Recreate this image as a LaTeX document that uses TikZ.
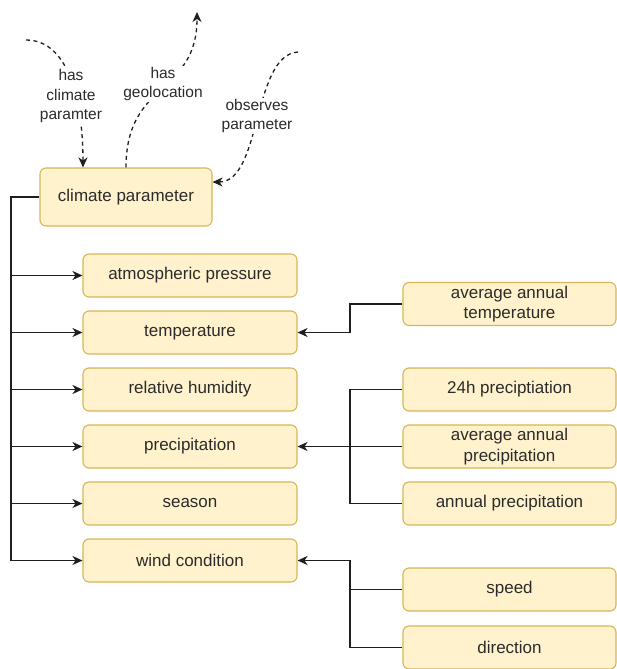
\documentclass[tikz,border=0pt]{standalone}
\usepackage{fontspec}
\setmainfont{Liberation Sans}
\usetikzlibrary{arrows.meta,calc}
\definecolor{boxfill}{HTML}{FFF2CC}
\definecolor{boxdraw}{HTML}{D6B656}
\definecolor{txt}{HTML}{2B2B2B}
\begin{document}
\begin{tikzpicture}[x=1pt,y=-1pt,
  box/.style={draw=boxdraw,fill=boxfill,rounded corners=6pt,line width=1.1pt,
    minimum width=214pt,minimum height=43pt,inner sep=0pt,text=txt,align=center,
    font=\fontsize{17}{20.5}\selectfont},
  conn/.style={line width=1.3pt,draw=black!88},
  arr/.style={conn,-{Stealth[length=10pt,width=9pt,inset=3pt]}},
  dsh/.style={line width=1.3pt,draw=black!88,dash pattern=on 4pt off 3.5pt,-{Stealth[length=10pt,width=9pt,inset=3pt]}},
  lbl/.style={fill=white,inner sep=1pt,text=txt,align=center,font=\fontsize{15.5}{19.5}\selectfont}]
\useasboundingbox (0,0) rectangle (617,669);
% nodes
\node[box,minimum width=172pt,minimum height=58pt] (cp) at (126,197) {climate parameter};
\node[box] (ap) at (190,275.5) {atmospheric pressure};
\node[box] (temp) at (190,332.5) {temperature};
\node[box] (rh) at (190,389.5) {relative humidity};
\node[box] (prec) at (190,446.5) {precipitation};
\node[box] (sea) at (190,503.5) {season};
\node[box] (wc) at (190,560.5) {wind condition};
\node[box,minimum width=213pt] (aat) at (509.5,304) {average annual\\temperature};
\node[box,minimum width=213pt] (h24) at (509.5,389.5) {24h preciptiation};
\node[box,minimum width=213pt] (aap) at (509.5,446.5) {average annual\\precipitation};
\node[box,minimum width=213pt] (annp) at (509.5,503.5) {annual precipitation};
\node[box,minimum width=213pt] (spd) at (509.5,589.5) {speed};
\node[box,minimum width=213pt] (dir) at (509.5,647.5) {direction};
% trunk
\coordinate (tr) at (11,0);
\coordinate (rj) at (350,0);
\draw[arr] (cp.west) -- (tr |- cp.west) -- (tr |- wc.west) -- (wc.west);
\foreach \n in {ap,temp,rh,prec,sea} \draw[arr] (tr |- \n.west) -- (\n.west);
% right side
\draw[arr] (aat.west) -- (rj |- aat.west) -- (rj |- temp.east) -- (temp.east);
\draw[conn] (h24.west) -- (rj |- h24.west) -- (rj |- annp.west) -- (annp.west);
\draw[arr] (aap.west) -- (prec.east);
\draw[arr] (spd.west) -- (rj |- spd.west) -- (rj |- wc.east) -- (wc.east);
\draw[conn] (dir.west) -- (rj |- dir.west) -- (rj |- spd.west);
% dashed relations
\coordinate (s1) at (26,40);
\coordinate (g1) at (197,12);
\coordinate (o1) at (298,52);
\draw[dsh] (s1) .. controls (72,40) and (83,110) .. ([xshift=-43pt]cp.north);
\draw[dsh] (cp.north) .. controls (126,80) and (197,95) .. (g1);
\draw[dsh] (o1) .. controls (252,55) and (262,182) .. ([yshift=15pt]cp.east);
\node[lbl] (l1) at (71,96) {has\\climate\\paramter};
\node[lbl] (l2) at (163,84) {has\\geolocation};
\node[lbl] (l3) at (257,116) {observes\\parameter};
\end{tikzpicture}
\end{document}
